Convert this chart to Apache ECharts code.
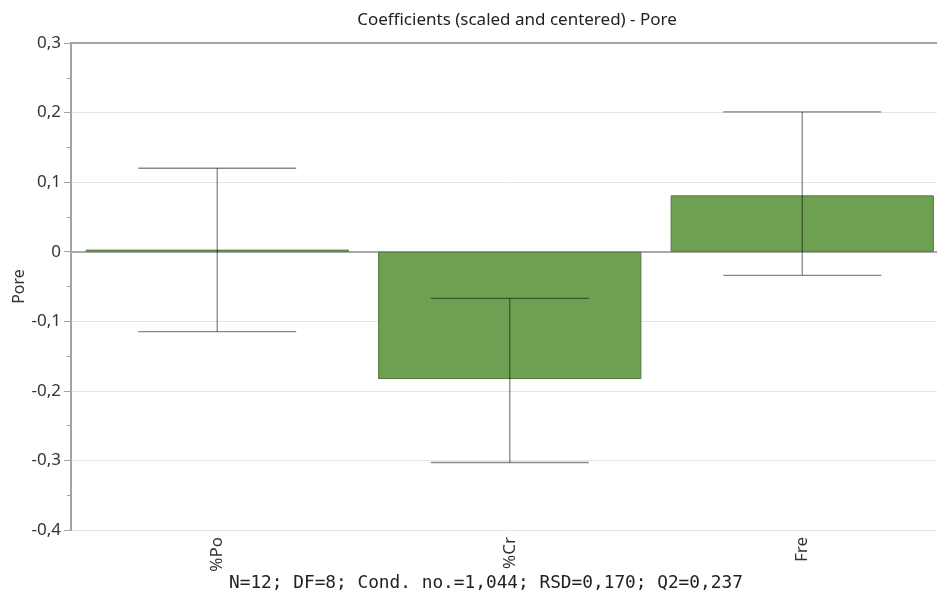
<!DOCTYPE html>
<html>
<head>
<meta charset="utf-8">
<script src="https://cdn.jsdelivr.net/npm/echarts@6/dist/echarts.min.js"></script>
<style>
  html, body { margin: 0; padding: 0; background: #fff; }
  #chart { width: 937px; height: 597px; }
</style>
</head>
<body>
<div id="chart"></div>
<script>
// Model terms and their scaled & centered coefficients with confidence limits
const categories = ['%Po', '%Cr', 'Fre'];
const coefficients = [0.003, -0.183, 0.081];
const ciLow = [-0.115, -0.303, -0.034];
const ciHigh = [0.120, -0.067, 0.201];

const titleText = 'Coefficients (scaled and centered) - Pore';
const yAxisName = 'Pore';
const footerText = 'N=12; DF=8; Cond. no.=1,044; RSD=0,170; Q2=0,237';

const axisGray = '#a2a2a2';
const textColor = '#333';

const errorData = categories.map((c, i) => [i, ciLow[i], ciHigh[i]]);

const chart = echarts.init(document.getElementById('chart'), null, { renderer: 'canvas' });

chart.setOption({
  animation: false,
  backgroundColor: '#fff',
  title: {
    text: titleText,
    left: 512,
    top: 7,
    textAlign: 'center',
    textStyle: { fontFamily: 'Noto Sans', fontSize: 17, fontWeight: 'normal', color: '#222' }
  },
  graphic: [{
    type: 'text',
    left: 229,
    top: 574,
    style: {
      text: footerText,
      font: '17.8px "DejaVu Sans Mono"',
      fill: '#222'
    }
  }],
  grid: { left: 71, top: 43, width: 877.5, height: 487, outerBoundsMode: 'none', containLabel: false },
  xAxis: [{
    type: 'category',
    data: categories,
    position: 'bottom',
    axisLine: { lineStyle: { color: axisGray, width: 2 } },
    axisTick: { alignWithLabel: true, length: 6, lineStyle: { color: axisGray } },
    axisLabel: { rotate: 90, margin: 7, color: textColor, fontFamily: 'Noto Sans', fontSize: 17 },
    splitLine: { show: false }
  }, {
    type: 'category',
    data: categories,
    position: 'top',
    axisLine: { lineStyle: { color: axisGray, width: 2 } },
    axisTick: { show: false },
    axisLabel: { show: false }
  }],
  yAxis: {
    type: 'value',
    min: -0.4,
    max: 0.3,
    interval: 0.1,
    name: yAxisName,
    nameLocation: 'middle',
    nameGap: 44,
    nameMoveOverlap: false,
    nameTextStyle: { color: textColor, fontFamily: 'Noto Sans', fontSize: 16 },
    axisLine: { show: true, lineStyle: { color: axisGray, width: 2 } },
    axisTick: { show: true, length: 7, lineStyle: { color: axisGray } },
    minorTick: { show: true, splitNumber: 2, length: 4, lineStyle: { color: axisGray } },
    axisLabel: {
      margin: 10,
      color: textColor,
      fontFamily: 'Noto Sans',
      fontSize: 17,
      formatter: v => {
        const r = Math.round(v * 10) / 10;
        return r === 0 ? '0' : r.toFixed(1).replace('.', ',');
      }
    },
    splitLine: { show: true, lineStyle: { color: '#e4e4e4', width: 1 } }
  },
  series: [{
    type: 'bar',
    data: coefficients,
    barCategoryGap: '10%',
    itemStyle: { color: '#6ea152', borderColor: '#4d7a3a', borderWidth: 1 },
    markLine: {
      silent: true,
      symbol: 'none',
      label: { show: false },
      lineStyle: { color: '#a8a8a8', width: 2, type: 'solid' },
      data: [{ yAxis: 0 }],
      z: 1
    },
    z: 2
  }, {
    type: 'custom',
    data: errorData,
    z: 5,
    renderItem: (params, api) => {
      const x = api.value(0);
      const lo = api.coord([x, api.value(1)]);
      const hi = api.coord([x, api.value(2)]);
      const half = api.size([1, 0])[0] * 0.27;
      const style = { stroke: 'rgba(0,0,0,0.47)', lineWidth: 1.3 };
      return {
        type: 'group',
        children: [
          { type: 'line', shape: { x1: hi[0], y1: hi[1], x2: lo[0], y2: lo[1] }, style },
          { type: 'line', shape: { x1: hi[0] - half, y1: hi[1], x2: hi[0] + half, y2: hi[1] }, style },
          { type: 'line', shape: { x1: lo[0] - half, y1: lo[1], x2: lo[0] + half, y2: lo[1] }, style }
        ]
      };
    }
  }]
});
</script>
</body>
</html>
